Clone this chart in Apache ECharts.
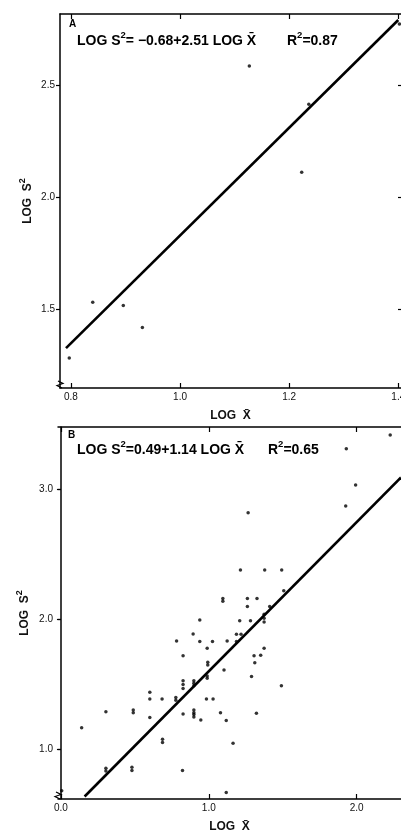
<!DOCTYPE html>
<html><head><meta charset="utf-8">
<script src="https://cdn.jsdelivr.net/npm/echarts@6/dist/echarts.min.js"></script>
<style>html,body{margin:0;padding:0;background:#fff;overflow:hidden}#c{width:401px;height:831px}</style>
</head><body><div id="c"></div>
<script>
// ---------- Panel A data ----------
const xTicksA = [0.8, 1.0, 1.2, 1.4];
const xTickLabelsA = ['0.8', '1.0', '1.2', '1.4'];
const yTicksA = [1.5, 2.0, 2.5];
const yTickLabelsA = ['1.5', '2.0', '2.5'];
const pointsAx = [0.797, 0.840, 0.896, 0.931, 1.127, 1.223, 1.236, 1.402];
const pointsAy = [1.281, 1.530, 1.515, 1.417, 2.585, 2.110, 2.414, 2.772];
const fitAx = [0.791, 1.400];
const fitAy = [1.325, 2.790];

// ---------- Panel B data ----------
const xTicksB = [0.0, 1.0, 2.0];
const xTickLabelsB = ['0.0', '1.0', '2.0'];
const yTicksB = [1.0, 2.0, 3.0];
const yTickLabelsB = ['1.0', '2.0', '3.0'];
const pointsBx = [2.227, 1.930, 1.993, 1.926, 1.266, 1.214, 1.378, 1.493, 1.507, 1.095,
  1.095, 1.261, 1.326, 1.261, 1.412, 1.374, 1.374, 1.374, 0.939, 1.209,
  1.282, 0.894, 1.187, 1.218, 0.782, 0.939, 1.025, 1.124, 1.187, 0.989,
  1.374, 0.826, 1.306, 1.351, 1.311, 0.993, 0.993, 1.103, 0.826, 0.826,
  0.826, 0.899, 0.899, 0.899, 0.989, 0.989, 1.289, 1.491, 0.601, 0.601,
  0.684, 0.777, 0.777, 0.984, 1.029, 0.304, 0.489, 0.489, 0.899, 0.899,
  0.899, 0.899, 0.826, 1.079, 1.322, 0.601, 0.946, 1.118, 0.140, 0.687,
  0.687, 1.164, 0.304, 0.304, 0.480, 0.480, 0.822, 1.118, 0.005];
const pointsBy = [3.417, 3.310, 3.033, 2.872, 2.820, 2.380, 2.380, 2.380, 2.220, 2.160,
  2.140, 2.160, 2.160, 2.100, 2.100, 2.040, 2.010, 1.980, 1.996, 1.990,
  1.990, 1.889, 1.886, 1.886, 1.835, 1.830, 1.830, 1.835, 1.830, 1.779,
  1.779, 1.722, 1.722, 1.725, 1.668, 1.671, 1.650, 1.612, 1.530, 1.500,
  1.470, 1.530, 1.510, 1.490, 1.566, 1.548, 1.561, 1.490, 1.440, 1.389,
  1.389, 1.400, 1.380, 1.389, 1.389, 1.292, 1.305, 1.284, 1.305, 1.284,
  1.270, 1.250, 1.274, 1.284, 1.280, 1.246, 1.228, 1.223, 1.169, 1.080,
  1.054, 1.049, 0.857, 0.836, 0.865, 0.839, 0.839, 0.670, 0.685];
const fitBx = [0.16, 2.30];
const fitBy = [0.64, 3.09];

const zip = (a, b) => a.map((v, i) => [v, b[i]]);
const lab = (ticks, labels) => v => { const i = ticks.findIndex(t => Math.abs(t - v) < 1e-6); return i >= 0 ? labels[i] : ''; };

const FONT = 'Liberation Sans';
const axLine = { show: true, lineStyle: { color: '#000', width: 1.5 } };
const tickStyle = { color: '#000', width: 1.2 };
const labStyle = { color: '#111', fontSize: 10, fontFamily: FONT };

function xAx(grid, min, max, ticks, labels, pos) {
  const top = pos === 'top';
  return {
    type: 'value', gridIndex: grid, position: pos, min, max,
    axisLine: axLine,
    axisTick: { show: true, inside: true, length: 5, lineStyle: tickStyle, customValues: ticks },
    axisLabel: top ? { show: false } : Object.assign({ margin: 4, customValues: ticks, formatter: lab(ticks, labels), hideOverlap: false }, labStyle),
    splitLine: { show: false },
    name: top ? '' : 'LOG  X\u0304', nameLocation: 'middle', nameGap: 22, nameMoveOverlap: false,
    nameTextStyle: { color: '#111', fontSize: 12, fontFamily: FONT, fontWeight: 'bold' }
  };
}
function yAx(grid, min, max, ticks, labels, pos, gap) {
  const right = pos === 'right';
  return {
    type: 'value', gridIndex: grid, position: pos, min, max,
    axisLine: right ? { show: false } : axLine,
    axisTick: { show: true, inside: right, length: right ? 3 : 4, lineStyle: tickStyle, customValues: ticks },
    axisLabel: right ? { show: false } : Object.assign({ margin: 5, customValues: ticks, formatter: lab(ticks, labels) }, labStyle),
    splitLine: { show: false },
    name: right ? '' : '{n|LOG  S}{s|2}', nameLocation: 'middle', nameGap: gap || 24, nameRotate: 90, nameMoveOverlap: false,
    nameTextStyle: { rich: {
      n: { color: '#111', fontSize: 12, fontFamily: FONT, fontWeight: 'bold', lineHeight: 16, verticalAlign: 'bottom' },
      s: { color: '#111', fontSize: 9, fontFamily: FONT, fontWeight: 'bold', lineHeight: 16, verticalAlign: 'top', padding: [0, 0, 6, 0] } } }
  };
}

const eqRich = {
  b: { fontSize: 14, fontWeight: 'bold', fontFamily: FONT, fill: '#000', color: '#000', lineHeight: 18, verticalAlign: 'bottom' },
  s: { fontSize: 9.5, fontWeight: 'bold', fontFamily: FONT, fill: '#000', color: '#000', lineHeight: 18, verticalAlign: 'top' }
};
function txt(x, y, text, extra) {
  return { type: 'text', x, y, silent: true, style: Object.assign({ text, rich: eqRich, fill: '#000' }, extra || {}) };
}

const chart = echarts.init(document.getElementById('c'), null, { renderer: 'canvas' });
chart.setOption({
  animation: false,
  backgroundColor: '#fff',
  grid: [
    { left: 60, top: 14, width: 341, height: 374, outerBoundsMode: 'none', containLabel: false },
    { left: 58, top: 427, width: 343, height: 372, outerBoundsMode: 'none', containLabel: false }
  ],
  xAxis: [
    xAx(0, 0.78, 1.405, xTicksA, xTickLabelsA, 'bottom'),
    xAx(0, 0.78, 1.405, xTicksA, xTickLabelsA, 'top'),
    xAx(1, -0.02, 2.30, xTicksB, xTickLabelsB, 'bottom'),
    xAx(1, -0.02, 2.30, xTicksB, xTickLabelsB, 'top')
  ],
  yAxis: [
    yAx(0, 1.147, 2.817, yTicksA, yTickLabelsA, 'left', 26),
    yAx(0, 1.147, 2.817, yTicksA, yTickLabelsA, 'right'),
    yAx(1, 0.621, 3.478, yTicksB, yTickLabelsB, 'left', 27),
    yAx(1, 0.621, 3.478, yTicksB, yTickLabelsB, 'right')
  ],
  series: [
    { type: 'scatter', xAxisIndex: 0, yAxisIndex: 0, data: zip(pointsAx, pointsAy), symbolSize: 3.5, itemStyle: { color: '#000' } },
    { type: 'line', xAxisIndex: 0, yAxisIndex: 0, data: zip(fitAx, fitAy), showSymbol: false, lineStyle: { color: '#000', width: 2.6 } },
    { type: 'scatter', xAxisIndex: 2, yAxisIndex: 2, data: zip(pointsBx, pointsBy), symbolSize: 3.5, itemStyle: { color: '#000' } },
    { type: 'line', xAxisIndex: 2, yAxisIndex: 2, data: zip(fitBx, fitBy), showSymbol: false, lineStyle: { color: '#000', width: 2.6 } }
  ],
  graphic: [
    { type: 'text', x: 69, y: 19, style: { text: 'A', font: 'bold 10px ' + FONT, fill: '#000' } },
    txt(77, 30, '{b|LOG S}{s|2}{b|= \u22120.68+2.51 LOG X\u0304}'),
    txt(287, 30, '{b|R}{s|2}{b|=0.87}'),
    { type: 'text', x: 68, y: 430, style: { text: 'B', font: 'bold 10px ' + FONT, fill: '#000' } },
    txt(77, 439, '{b|LOG S}{s|2}{b|=0.49+1.14 LOG X\u0304}'),
    txt(268, 439, '{b|R}{s|2}{b|=0.65}'),
    { type: 'polyline', shape: { points: [[58, 381], [63, 383.5], [57, 385.5], [62, 388]] }, style: { stroke: '#000', lineWidth: 1.2, fill: null } },
    { type: 'polyline', shape: { points: [[56, 792], [61, 794.5], [55, 796.5], [60, 799]] }, style: { stroke: '#000', lineWidth: 1.2, fill: null } }
  ]
});
</script>
</body></html>
